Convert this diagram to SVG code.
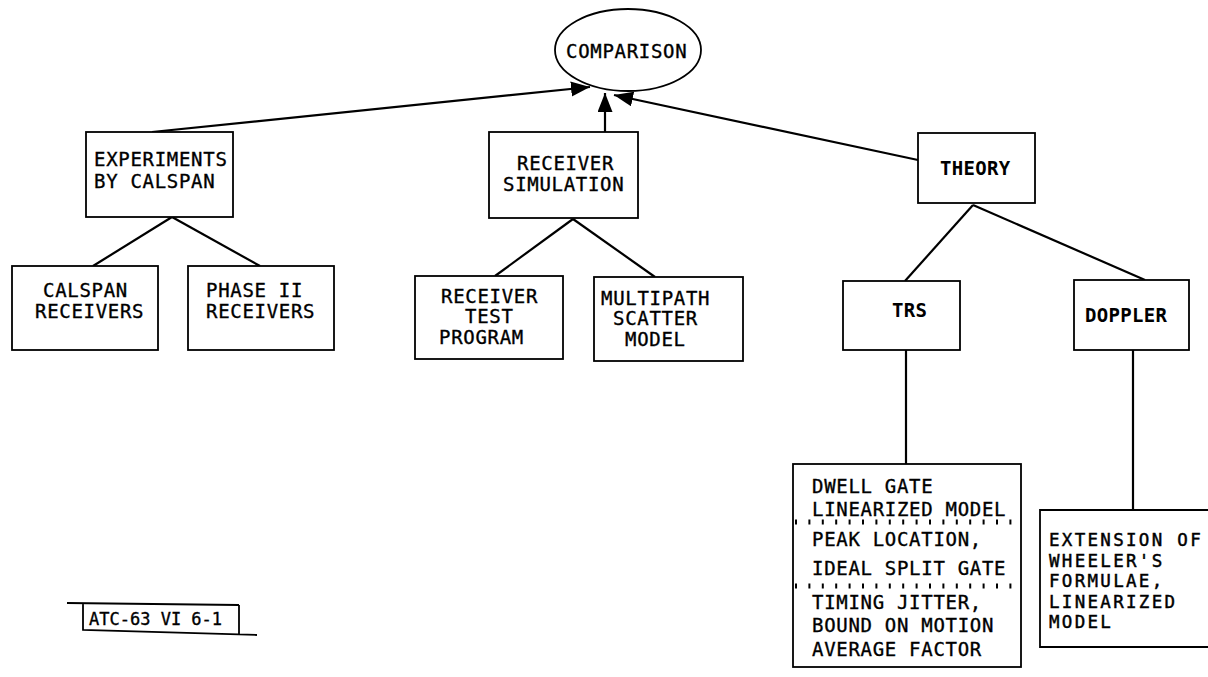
<svg xmlns="http://www.w3.org/2000/svg" width="1208" height="677" viewBox="0 0 1208 677">
  <defs>
    <style>
      .box { fill: #fff; stroke: #000; stroke-width: 1.8; }
      .edge { fill: none; stroke: #000; stroke-width: 2.2; }
      .dots { stroke: #000; stroke-width: 5; stroke-dasharray: 2 11.4; }
      text { font-family: "DejaVu Sans Mono", "Liberation Mono", monospace; font-size: 19px; letter-spacing: 0.7px; fill: #000; stroke: #000; stroke-width: 0.35; }
      .heavy { font-weight: bold; stroke-width: 0; letter-spacing: 0.3px; }
      .wide { font-size: 17.5px; letter-spacing: 2.3px; stroke-width: 0.45; }
      .lbl { font-size: 17px; letter-spacing: 0; }
    </style>
    <marker id="arrow" markerUnits="userSpaceOnUse" markerWidth="22" markerHeight="16" refX="19" refY="7.5" orient="auto">
      <path d="M0,0 L19,7.5 L0,15 Z" fill="#000"/>
    </marker>
  </defs>

  <rect width="1208" height="677" fill="#fff"/>

  <!-- connectors -->
  <g id="connectors">
    <line class="edge" x1="152" y1="132" x2="590" y2="87" marker-end="url(#arrow)"/>
    <line class="edge" x1="605" y1="132" x2="605" y2="93" marker-end="url(#arrow)"/>
    <line class="edge" x1="918" y1="160" x2="614" y2="95" marker-end="url(#arrow)"/>
    <line class="edge" x1="172" y1="217" x2="93" y2="266"/>
    <line class="edge" x1="172" y1="217" x2="260" y2="266"/>
    <line class="edge" x1="573" y1="219" x2="495" y2="276"/>
    <line class="edge" x1="573" y1="219" x2="655" y2="277"/>
    <line class="edge" x1="973" y1="205" x2="905" y2="281"/>
    <line class="edge" x1="973" y1="205" x2="1145" y2="280"/>
    <line class="edge" x1="906" y1="350" x2="906" y2="464"/>
    <line class="edge" x1="1133" y1="350" x2="1133" y2="510"/>
  </g>

  <g id="comparison">
    <ellipse class="box" cx="628" cy="50" rx="73" ry="41"/>
    <text x="566" y="58">COMPARISON</text>
  </g>

  <g id="experiments">
    <rect class="box" x="86" y="132" width="147" height="85"/>
    <text x="94" y="166">EXPERIMENTS</text>
    <text x="94" y="188">BY CALSPAN</text>
  </g>

  <g id="calspan-receivers">
    <rect class="box" x="12" y="266" width="146" height="84"/>
    <text x="43" y="297">CALSPAN</text>
    <text x="35" y="318">RECEIVERS</text>
  </g>

  <g id="phase2-receivers">
    <rect class="box" x="188" y="266" width="146" height="84"/>
    <text x="206" y="297">PHASE II</text>
    <text x="206" y="318">RECEIVERS</text>
  </g>

  <g id="receiver-simulation">
    <rect class="box" x="489" y="132" width="149" height="86"/>
    <text x="517" y="170">RECEIVER</text>
    <text x="503" y="191">SIMULATION</text>
  </g>

  <g id="receiver-test-program">
    <rect class="box" x="415" y="276" width="148" height="83"/>
    <text x="441" y="303">RECEIVER</text>
    <text x="465" y="323">TEST</text>
    <text x="439" y="344">PROGRAM</text>
  </g>

  <g id="multipath-scatter">
    <rect class="box" x="594" y="277" width="149" height="84"/>
    <text x="601" y="305">MULTIPATH</text>
    <text x="613" y="325">SCATTER</text>
    <text x="625" y="346">MODEL</text>
  </g>

  <g id="theory">
    <rect class="box" x="918" y="133" width="117" height="70"/>
    <text class="heavy" x="940" y="175">THEORY</text>
  </g>

  <g id="trs">
    <rect class="box" x="843" y="281" width="117" height="69"/>
    <text class="heavy" x="892" y="317">TRS</text>
  </g>

  <g id="doppler">
    <rect class="box" x="1074" y="280" width="115" height="70"/>
    <text class="heavy" x="1085" y="322">DOPPLER</text>
  </g>

  <g id="trs-detail">
    <rect class="box" x="793" y="464" width="228" height="203"/>
    <text x="812" y="493">DWELL GATE</text>
    <text x="812" y="516">LINEARIZED MODEL</text>
    <line class="dots" x1="795" y1="522" x2="1021" y2="522"/>
    <text x="812" y="546">PEAK LOCATION,</text>
    <text x="812" y="575">IDEAL SPLIT GATE</text>
    <line class="dots" x1="795" y1="586" x2="1021" y2="586"/>
    <text x="812" y="609">TIMING JITTER,</text>
    <text x="812" y="632">BOUND ON MOTION</text>
    <text x="812" y="656">AVERAGE FACTOR</text>
  </g>

  <g id="doppler-detail">
    <path class="box" d="M1212,510 L1040,510 L1040,647 L1212,647"/>
    <text class="wide" x="1049" y="546">EXTENSION OF</text>
    <text class="wide" x="1049" y="566.5">WHEELER'S</text>
    <text class="wide" x="1049" y="587">FORMULAE,</text>
    <text class="wide" x="1049" y="607.5">LINEARIZED</text>
    <text class="wide" x="1049" y="628">MODEL</text>
  </g>

  <g id="figure-label">
    <path class="edge" style="stroke-width:1.8" d="M67,603 L239,605 M83,603 L83,630 L257,635 M239,605 L239,634"/>
    <text class="lbl" x="89" y="625">ATC-63 VI 6-1</text>
  </g>
</svg>
